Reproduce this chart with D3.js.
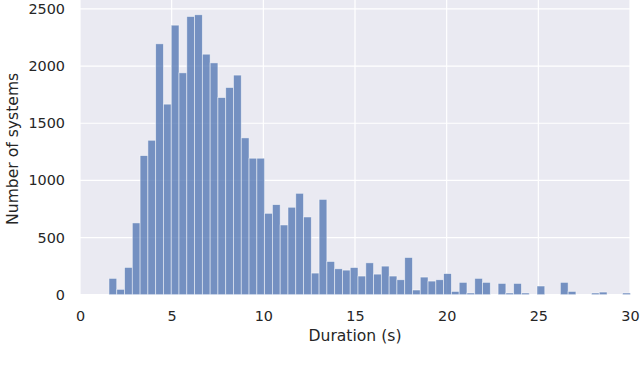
<!DOCTYPE html>
<html>
<head>
<meta charset="utf-8">
<script src="https://cdn.jsdelivr.net/npm/d3@7"></script>
<style>
  body { margin: 0; background: #fff; }
  text { font-family: "DejaVu Sans", sans-serif; fill: #262626; }
</style>
</head>
<body>
<div id="chart"></div>
<script>
// Histogram bins: first edge and width (seconds), counts
var binStart = 1.58;
var binWidth = 0.4245;
var counts = [
  143, 47, 239, 628, 1217, 1351, 2195, 1667, 2358, 1941,
  2434, 2449, 2104, 2028, 1725, 1813, 1921, 1372, 1194, 1194,
  712, 788, 610, 765, 887, 680, 189, 834, 291, 227,
  215, 238, 163, 279, 180, 250, 163, 131, 326, 41,
  154, 119, 131, 185, 29, 108, 15, 143, 108, 0,
  99, 15, 99, 15, 0, 76, 0, 0, 108, 29,
  0, 0, 15, 23, 0, 0, 15
];
var xTicks = [0, 5, 10, 15, 20, 25, 30];
var yTicks = [0, 500, 1000, 1500, 2000, 2500];

var svgWidth = 640;
var svgHeight = 377;
var margin = { top: 0, right: 10, bottom: 82.3, left: 80 };
var chartWidth = svgWidth - margin.left - margin.right;
var chartHeight = svgHeight - margin.top - margin.bottom;

var svg = d3.select("#chart")
  .append("svg")
  .attr("width", svgWidth)
  .attr("height", svgHeight);

var chartGroup = svg.append("g")
  .attr("transform", `translate(${margin.left}, ${margin.top})`);

var x = d3.scaleLinear().domain([0, 30]).range([0, chartWidth]);
var y = d3.scaleLinear().domain([0, 2578]).range([chartHeight, 0]);

// background
chartGroup.append("rect")
  .attr("width", chartWidth)
  .attr("height", chartHeight)
  .attr("fill", "#eaeaf2");

// grid
chartGroup.selectAll(".xgrid")
  .data(xTicks)
  .enter()
  .append("line")
  .attr("x1", d => x(d)).attr("x2", d => x(d))
  .attr("y1", 0).attr("y2", chartHeight)
  .attr("stroke", "#fff").attr("stroke-width", 1.2);

chartGroup.selectAll(".ygrid")
  .data(yTicks)
  .enter()
  .append("line")
  .attr("x1", 0).attr("x2", chartWidth)
  .attr("y1", d => y(d)).attr("y2", d => y(d))
  .attr("stroke", "#fff").attr("stroke-width", 1.2);

// bars
var bins = counts.map((c, i) => ({ x0: binStart + i * binWidth, x1: binStart + (i + 1) * binWidth, count: c }));

chartGroup.append("g")
  .selectAll("rect")
  .data(bins.filter(d => d.count > 0))
  .enter()
  .append("rect")
  .attr("x", d => x(d.x0))
  .attr("y", d => y(d.count))
  .attr("width", d => x(d.x1) - x(d.x0))
  .attr("height", d => y(0) - y(d.count))
  .attr("fill", "#4c72b0")
  .attr("fill-opacity", 0.75)
  .attr("stroke", "#ffffff")
  .attr("stroke-opacity", 0.6)
  .attr("stroke-width", 0.8);

// axes (no domain lines, no tick marks)
var bottomAxis = d3.axisBottom(x).tickValues(xTicks).tickFormat(d3.format("d")).tickSize(0).tickPadding(16);
var leftAxis = d3.axisLeft(y).tickValues(yTicks).tickFormat(d3.format("d")).tickSize(0).tickPadding(15);

var xAxis = chartGroup.append("g")
  .attr("transform", `translate(0, ${chartHeight})`)
  .call(bottomAxis);
var yAxis = chartGroup.append("g").call(leftAxis);

[xAxis, yAxis].forEach(function(a) {
  a.select(".domain").remove();
  a.selectAll("text")
    .attr("font-family", "DejaVu Sans, sans-serif")
    .attr("font-size", "14.4px")
    .attr("fill", "#262626");
});

// axis labels
chartGroup.append("text")
  .attr("x", chartWidth / 2)
  .attr("y", chartHeight + 46.5)
  .attr("text-anchor", "middle")
  .attr("font-size", "15.6px")
  .text("Duration (s)");

chartGroup.append("text")
  .attr("transform", "rotate(-90)")
  .attr("x", -chartHeight / 2 - 1.5)
  .attr("y", -62.5)
  .attr("text-anchor", "middle")
  .attr("font-size", "15.6px")
  .text("Number of systems");
</script>
</body>
</html>
